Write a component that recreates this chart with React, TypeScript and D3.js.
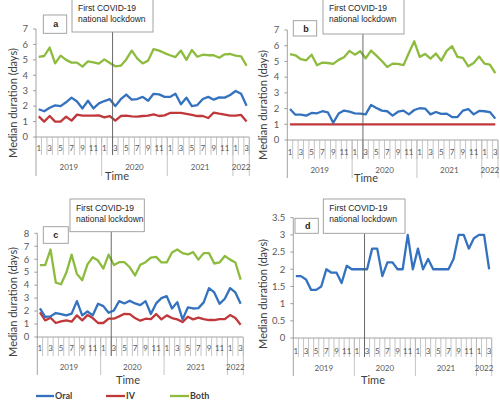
import React from "react";
import * as d3 from "d3";

// ---------- data ----------
const years = ["2019", "2020", "2021", "2022"];
const yearMonths = [12, 12, 12, 3];
const months: string[] = years.flatMap((y, yi) =>
  d3.range(yearMonths[yi]).map((m) => `${y}-${m + 1}`)
);

const aOral = [1.8,1.67,1.9,2.05,2.0,2.25,2.55,2.3,1.85,2.35,1.85,2.18,2.33,2.45,2.0,2.45,2.75,2.42,2.46,2.6,2.35,2.8,2.76,2.6,2.6,2.8,2.12,2.55,2.0,2.07,2.46,2.6,2.42,2.57,2.55,2.72,2.98,2.8,2.03];
const aIV = [1.34,1.0,1.36,1.0,1.0,1.32,1.06,1.45,1.38,1.38,1.38,1.4,1.27,1.36,1.06,1.36,1.38,1.34,1.32,1.36,1.38,1.47,1.36,1.4,1.56,1.56,1.56,1.5,1.43,1.36,1.36,1.23,1.58,1.51,1.45,1.38,1.38,1.43,1.0];
const aBoth = [5.2,5.25,5.8,4.77,5.27,5.0,4.82,4.82,4.56,4.9,4.84,4.75,5.03,4.8,4.58,4.62,5.03,5.6,5.1,4.77,4.95,5.7,5.6,5.44,5.3,5.18,5.6,5.0,5.64,5.2,5.33,5.3,5.3,5.14,5.36,5.38,5.27,5.23,4.62];

const bOral = [1.97,1.61,1.61,1.55,1.72,1.7,1.83,1.76,1.1,1.68,1.87,1.8,1.7,1.68,1.63,2.23,2.04,1.87,1.83,1.55,1.8,1.87,1.63,1.91,2.02,2.0,1.63,1.78,1.66,1.68,1.46,1.46,1.87,1.97,1.63,1.85,1.83,1.78,1.36];
const bIV = [1,1,1,1,1,1,1,1,1,1,1,1,1,1,1,1,1,1,1,1,1,1,1,1,1,1,1,1,1,1,1,1,1,1,1,1,1,1,1];
const bBoth = [5.46,5.39,5.14,5.07,5.43,4.76,4.93,4.9,4.84,5.1,5.27,5.67,5.43,5.65,5.2,5.69,5.37,5.03,4.65,4.86,4.84,4.76,5.54,6.28,5.29,5.48,5.18,5.5,5.05,5.67,5.97,5.29,5.22,4.69,4.9,5.31,4.86,4.8,4.25];

const cOral = [2.2,1.56,1.59,1.85,1.77,1.67,1.8,2.77,1.67,1.97,1.67,2.56,2.38,1.87,2.05,2.77,2.59,2.8,2.59,2.46,2.77,1.77,2.59,3.0,3.15,2.2,2.69,1.36,2.28,2.2,2.23,2.67,3.77,3.44,2.56,2.95,3.77,3.44,2.56];
const cIV = [1.9,1.28,1.49,1.08,1.2,1.28,1.18,1.67,1.28,1.69,1.46,1.08,1.08,1.41,1.41,1.59,1.79,1.77,1.46,1.26,1.41,1.38,1.77,1.36,1.67,1.46,1.36,1.15,1.56,1.36,1.49,1.38,1.31,1.31,1.38,1.38,1.69,1.46,0.95];
const cBoth = [5.55,5.55,6.75,4.2,4.07,4.97,6.35,4.87,4.38,5.6,6.15,5.9,5.28,6.35,5.55,5.77,5.77,5.38,4.75,5.57,5.77,6.13,6.18,5.75,5.75,6.52,6.75,6.47,6.37,6.55,5.97,6.47,6.47,5.67,5.75,6.25,5.97,5.75,4.42];

const dOral = [1.8,1.8,1.7,1.4,1.4,1.5,2.0,1.9,1.9,1.6,2.1,2.0,2.0,2.0,2.0,2.6,2.6,1.8,2.2,2.2,2.0,2.0,3.0,2.0,2.6,2.0,2.3,2.0,2.0,2.0,2.0,2.3,3.0,3.0,2.6,2.9,3.0,3.0,2.0];

const seriesNames = ["Oral", "IV", "Both"];
const lockdownMonth = "2020-3";
const annotationLines = ["First COVID-19", "national lockdown"];
const yTitle = "Median duration (days)";
const xTitle = "Time";

// ---------- styles ----------
const COLORS: Record<string, string> = { Oral: "#3472bf", IV: "#c0383a", Both: "#8cbb3e" };
const FONT = "Lato, 'Liberation Sans', sans-serif";
const ARIAL = "'Liberation Sans', Arial, sans-serif";

type Panel = {
  letter: string;
  series: { name: string; values: number[] }[];
  left: number; right: number; yZero: number; yTop: number;
  yMax: number; yStep: number; fmt: (v: number) => string;
  monthBase: number; catBottom: number; yearBase: number; yearBottom: number;
  timeX: number; timeBase: number; titleX: number; titleCY: number;
  lbl: [number, number, number, number];
  ann: [number, number, number, number];
};

const panels: Panel[] = [
  {
    letter: "a",
    series: [{ name: "Both", values: aBoth }, { name: "IV", values: aIV }, { name: "Oral", values: aOral }],
    left: 36, right: 249.3, yZero: 137, yTop: 29, yMax: 7, yStep: 1, fmt: (v) => String(v),
    monthBase: 151, catBottom: 155, yearBase: 169.5, yearBottom: 176,
    timeX: 117, timeBase: 179.5, titleX: 13, titleCY: 103,
    lbl: [43.3, 15, 23.4, 18.3], ann: [72, -1, 81, 33],
  },
  {
    letter: "b",
    series: [{ name: "Both", values: bBoth }, { name: "IV", values: bIV }, { name: "Oral", values: bOral }],
    left: 287.3, right: 498, yZero: 140, yTop: 30, yMax: 7, yStep: 1, fmt: (v) => String(v),
    monthBase: 154.5, catBottom: 159, yearBase: 172.5, yearBottom: 178,
    timeX: 366, timeBase: 181.5, titleX: 263, titleCY: 105,
    lbl: [293.3, 20.7, 23.4, 15.3], ann: [323, -1, 81, 35],
  },
  {
    letter: "c",
    series: [{ name: "Both", values: cBoth }, { name: "IV", values: cIV }, { name: "Oral", values: cOral }],
    left: 37.3, right: 243.3, yZero: 337, yTop: 233.3, yMax: 8, yStep: 1, fmt: (v) => String(v),
    monthBase: 351, catBottom: 356, yearBase: 369.5, yearBottom: 375,
    timeX: 128, timeBase: 384, titleX: 12.7, titleCY: 302,
    lbl: [43.3, 226.7, 25, 16.6], ann: [70, 199, 74.3, 32.7],
  },
  {
    letter: "d",
    series: [{ name: "Oral", values: dOral }],
    left: 293.3, right: 491.7, yZero: 338, yTop: 217.7, yMax: 3.5, yStep: 0.5, fmt: (v) => String(v),
    monthBase: 353.7, catBottom: 357, yearBase: 371, yearBottom: 376,
    timeX: 373, timeBase: 384, titleX: 262.7, titleCY: 294,
    lbl: [295, 218.3, 23.3, 15], ann: [323.3, 199, 81.7, 34.3],
  },
];

function PanelView({ p }: { p: Panel }) {
  const x = d3.scaleBand<string>().domain(months).range([p.left, p.right]).paddingInner(0).paddingOuter(0);
  const y = d3.scaleLinear().domain([0, p.yMax]).range([p.yZero, p.yTop]);
  const bw = x.bandwidth();
  const ticks = d3.range(0, p.yMax + p.yStep / 2, p.yStep);
  const line = d3
    .line<number>()
    .x((_, i) => (x(months[i]) as number) + bw / 2)
    .y((v) => y(v));
  const lockX = x(lockdownMonth) as number;

  let acc = 0;
  const groups = years.map((yr, i) => {
    const start = acc;
    acc += yearMonths[i];
    return { yr, start, end: acc };
  });
  const boundaryX = (i: number) => (i >= months.length ? p.right : (x(months[i]) as number));

  return (
    <g>
      <line x1={p.left} x2={p.left} y1={p.yTop} y2={p.yearBottom} stroke="#8a8a8a" strokeWidth={0.8} />
      {ticks.map((t) => (
        <g key={t}>
          <line x1={p.left - 3} x2={p.left} y1={y(t)} y2={y(t)} stroke="#8a8a8a" strokeWidth={0.8} />
          <text x={p.left - 8} y={y(t) + 3.3} textAnchor="end" fontSize={9.5} fill="#595959" fontFamily={FONT}>
            {p.fmt(t)}
          </text>
        </g>
      ))}
      <line x1={p.left} x2={p.right} y1={p.yZero} y2={p.yZero} stroke="#8a8a8a" strokeWidth={0.8} />
      {months.map((m, i) => (
        <line key={"c" + m} x1={boundaryX(i + 1)} x2={boundaryX(i + 1)} y1={p.yZero} y2={p.catBottom} stroke="#b5b5b5" strokeWidth={0.8} />
      ))}
      {months.map((m, i) =>
        (i % 12) % 2 === 0 ? (
          <text key={"m" + m} x={(x(m) as number) + bw / 2} y={p.monthBase} textAnchor="middle" fontSize={8} fill="#595959" fontFamily={FONT}>
            {m.split("-")[1]}
          </text>
        ) : null
      )}
      {groups.map((g) => (
        <g key={g.yr}>
          <line x1={boundaryX(g.end)} x2={boundaryX(g.end)} y1={p.yZero} y2={p.yearBottom} stroke="#b5b5b5" strokeWidth={0.8} />
          <text x={(boundaryX(g.start) + boundaryX(g.end)) / 2} y={p.yearBase} textAnchor="middle" fontSize={8} fill="#595959" fontFamily={FONT}>
            {g.yr}
          </text>
        </g>
      ))}
      <text x={p.timeX} y={p.timeBase} textAnchor="middle" fontSize={11} fill="#404040" fontFamily={FONT}>
        {xTitle}
      </text>
      <text
        transform={`translate(${p.titleX + 4},${p.titleCY}) rotate(-90)`}
        textAnchor="middle"
        fontSize={11}
        fill="#404040"
        fontFamily={FONT}
      >
        {yTitle}
      </text>
      {p.series.map((s) => (
        <path key={s.name} d={line(s.values) || ""} fill="none" stroke={COLORS[s.name]} strokeWidth={2.3} strokeLinejoin="round" />
      ))}
      <line x1={lockX} x2={lockX} y1={p.ann[1] + p.ann[3]} y2={p.catBottom} stroke="#595959" strokeWidth={0.9} />
      <rect x={p.ann[0]} y={p.ann[1]} width={p.ann[2]} height={p.ann[3]} fill="#fff" stroke="#9a9a9a" strokeWidth={0.9} />
      {annotationLines.map((t, i) => (
        <text key={t} x={p.ann[0] + 6} y={p.ann[1] + 12 + i * 11} fontSize={8.5} fill="#262626" fontFamily={ARIAL}>
          {t}
        </text>
      ))}
      <rect x={p.lbl[0]} y={p.lbl[1]} width={p.lbl[2]} height={p.lbl[3]} fill="#fff" stroke="#9a9a9a" strokeWidth={0.9} />
      <text x={p.lbl[0] + 10} y={p.lbl[1] + p.lbl[3] / 2 + 3.2} fontSize={9} fontWeight="bold" fill="#262626" fontFamily={ARIAL}>
        {p.letter}
      </text>
    </g>
  );
}

const legendPos = [
  { x1: 36, x2: 54 },
  { x1: 106, x2: 125 },
  { x1: 170, x2: 189 },
];

export default function App() {
  return (
    <svg width={500} height={403} style={{ position: "absolute", left: 0, top: 0, background: "#fff" }}>
      <rect width={500} height={403} fill="#fff" />
      {panels.map((p) => (
        <PanelView key={p.letter} p={p} />
      ))}
      {seriesNames.map((n, i) => (
        <g key={n}>
          <line x1={legendPos[i].x1} x2={legendPos[i].x2} y1={396} y2={396} stroke={COLORS[n]} strokeWidth={2.3} />
          <text x={legendPos[i].x2 + 1} y={399.3} fontSize={9} fontWeight="bold" fill="#404040" fontFamily={FONT}>
            {n}
          </text>
        </g>
      ))}
    </svg>
  );
}
